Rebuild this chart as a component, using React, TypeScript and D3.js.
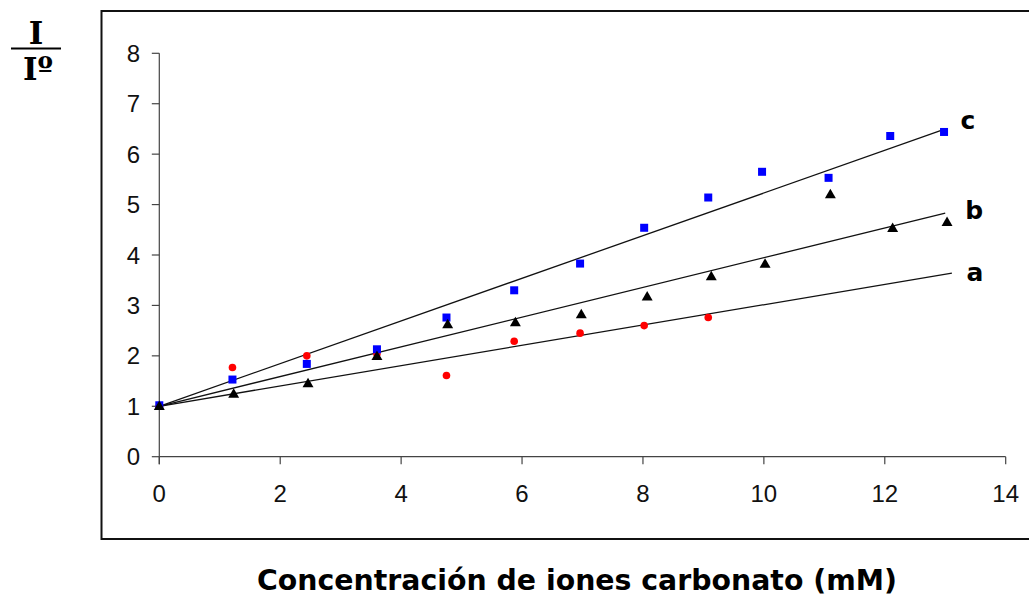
import React from "react";
import * as d3 from "d3";

// Series a (red circles)
const xA = [0, 1.21, 2.44, 3.6, 4.75, 5.87, 6.96, 8.02, 9.08];
const yA = [1.0, 1.77, 2.0, 2.04, 1.61, 2.29, 2.45, 2.6, 2.76];
// Series b (black triangles)
const xB = [0, 1.23, 2.46, 3.6, 4.77, 5.89, 6.98, 8.07, 9.13, 10.02, 11.1, 12.13, 13.03];
const yB = [1.0, 1.24, 1.45, 1.99, 2.62, 2.66, 2.82, 3.17, 3.57, 3.82, 5.2, 4.53, 4.65];
// Series c (blue squares)
const xC = [0, 1.21, 2.44, 3.6, 4.75, 5.87, 6.96, 8.02, 9.08, 9.97, 11.07, 12.09, 12.98];
const yC = [1.02, 1.53, 1.84, 2.13, 2.76, 3.3, 3.83, 4.54, 5.14, 5.65, 5.53, 6.36, 6.44];

// Trend lines: [x start, y start, x end, y end]
const fitA = [0, 1, 13.11, 3.64];
const fitB = [0, 1, 13.0, 4.83];
const fitC = [0, 1, 12.98, 6.49];
const fitLabels = ["a", "b", "c"];

const xTicks = [0, 2, 4, 6, 8, 10, 12, 14];
const yTicks = [0, 1, 2, 3, 4, 5, 6, 7, 8];
const xTitle = "Concentración de iones carbonato (mM)";

export default function App() {
  const W = 1029, H = 598;
  const x = d3.scaleLinear().domain([0, 14]).range([159.3, 1005.7]);
  const y = d3.scaleLinear().domain([0, 8]).range([456.7, 53.3]);
  const line = d3.line<[number, number]>().x(d => x(d[0])).y(d => y(d[1]));
  const fits = [fitA, fitB, fitC];
  const labelOff = [
    { dx: 23, dy: 8 },
    { dx: 29, dy: 6 },
    { dx: 24, dy: 0 },
  ];
  const tri = d3.symbol().type(d3.symbolTriangle).size(52)();
  const axisColor = "#444";
  return (
    <svg width={W} height={H} style={{ position: "absolute", left: 0, top: 0, background: "#fff" }}>
      <rect x={0} y={0} width={W} height={H} fill="#fff" />
      {/* outer frame */}
      <path d={`M${W + 5},11 L101.5,11 L101.5,539 L${W + 5},539`} fill="none" stroke="#111" strokeWidth={2} />
      {/* Y label I / I° */}
      <text x={36} y={44} textAnchor="middle" fontFamily="DejaVu Serif" fontWeight="bold" fontSize={31}>I</text>
      <line x1={11} x2={61} y1={48.5} y2={48.5} stroke="#000" strokeWidth={2.2} />
      <text x={38} y={80} textAnchor="middle" fontFamily="DejaVu Serif" fontWeight="bold" fontSize={31}>Iº</text>
      {/* axes */}
      <line x1={x(0)} x2={x(0)} y1={y(8)} y2={y(0) + 7.5} stroke={axisColor} strokeWidth={1.2} />
      <line x1={x(0)} x2={x(14)} y1={y(0)} y2={y(0)} stroke={axisColor} strokeWidth={1.2} />
      {yTicks.map(t => (
        <g key={"y" + t}>
          <line x1={x(0) - 7.5} x2={x(0)} y1={y(t)} y2={y(t)} stroke={axisColor} strokeWidth={1.2} />
          <text x={140} y={y(t) + 8.5} textAnchor="end" fontFamily="Liberation Sans" fontSize={24} fill="#111">{t}</text>
        </g>
      ))}
      {xTicks.map(t => (
        <g key={"x" + t}>
          <line x1={x(t)} x2={x(t)} y1={y(0)} y2={y(0) + 7.5} stroke={axisColor} strokeWidth={1.2} />
          <text x={x(t)} y={502} textAnchor="middle" fontFamily="Liberation Sans" fontSize={24} fill="#111">{t}</text>
        </g>
      ))}
      {/* trend lines */}
      {fits.map((f, i) => (
        <path key={"f" + i} d={line([[f[0], f[1]], [f[2], f[3]]]) || ""} fill="none" stroke="#111" strokeWidth={1.3} />
      ))}
      {/* series a: red circles */}
      {xA.map((v, i) => (
        <circle key={"a" + i} cx={x(v)} cy={y(yA[i])} r={3.8} fill="#ff0000" />
      ))}
      {/* series c: blue squares */}
      {xC.map((v, i) => (
        <rect key={"c" + i} x={x(v) - 4} y={y(yC[i]) - 4} width={8} height={8} fill="#0000ff" />
      ))}
      {/* series b: black triangles */}
      {xB.map((v, i) => (
        <path key={"b" + i} d={tri || ""} transform={`translate(${x(v)},${y(yB[i]) + 0.5})`} fill="#000" />
      ))}
      {/* fit labels */}
      {fits.map((f, i) => (
        <text key={"l" + i} x={x(f[2]) + labelOff[i].dx} y={y(f[3]) + labelOff[i].dy} textAnchor="middle"
          fontFamily="DejaVu Sans" fontWeight="bold" fontSize={25} fill="#000">{fitLabels[i]}</text>
      ))}
      {/* x title */}
      <text x={577} y={590} textAnchor="middle" fontFamily="DejaVu Sans" fontWeight="bold" fontSize={28}
        textLength={640} lengthAdjust="spacingAndGlyphs">{xTitle}</text>
    </svg>
  );
}
